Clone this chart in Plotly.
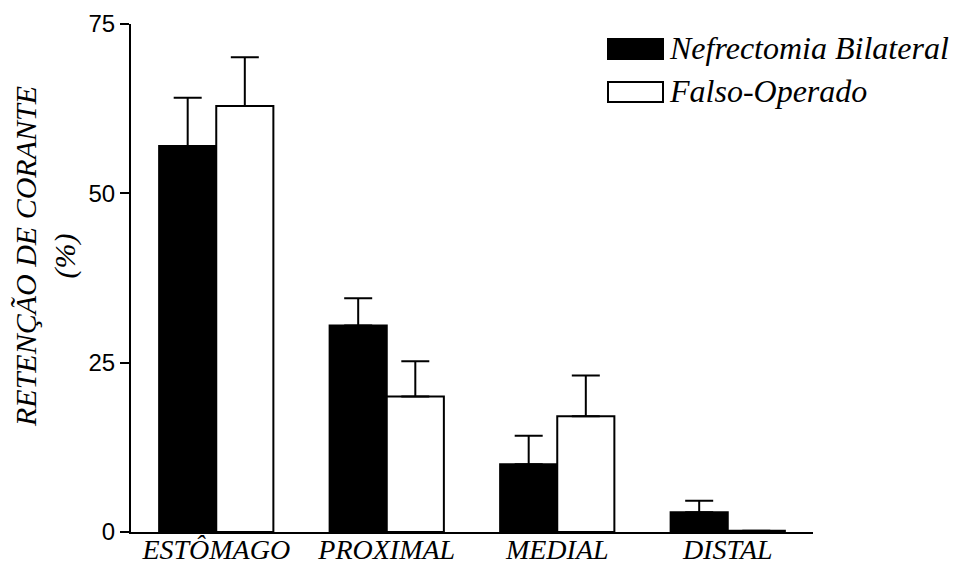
import plotly.graph_objects as go

categories = ["ESTÔMAGO", "PROXIMAL", "MEDIAL", "DISTAL"]
nefrectomia = [57.0, 30.5, 10.0, 2.9]
nefrectomia_err = [7.1, 4.0, 4.2, 1.7]
falso = [62.9, 20.0, 17.1, 0.2]
falso_err = [7.2, 5.2, 6.0, 0.0]
series_names = ["Nefrectomia Bilateral", "Falso-Operado"]
y_ticks = [0, 25, 50, 75]
y_title = "RETENÇÃO DE CORANTE<br>(%)"

serif = "Liberation Serif"
sans = "Liberation Sans"

fig = go.Figure()
fig.add_trace(go.Bar(
    x=categories, y=nefrectomia, name=series_names[0],
    marker=dict(color="black", line=dict(color="black", width=2)),
    error_y=dict(type="data", array=nefrectomia_err, arrayminus=[0]*4, symmetric=False,
                 color="black", thickness=2, width=14),
    showlegend=False,
))
fig.add_trace(go.Bar(
    x=categories, y=falso, name=series_names[1],
    marker=dict(color="white", line=dict(color="black", width=2)),
    error_y=dict(type="data", array=falso_err, arrayminus=[0]*4, symmetric=False,
                 color="black", thickness=2, width=14),
    showlegend=False,
))

L, R, T, B = 131, 813, 24, 532
W, H = R - L, B - T

# legend drawn manually (wide rectangles)
legend_fill = ["black", "white"]
for i, (nm, fc) in enumerate(zip(series_names, legend_fill)):
    top = 39 + i * 43
    fig.add_shape(type="rect", xref="paper", yref="paper",
                  x0=(608 - L) / W, x1=(663 - L) / W,
                  y0=(B - (top + 20)) / H, y1=(B - top) / H,
                  fillcolor=fc, line=dict(color="black", width=2))
    fig.add_annotation(xref="paper", yref="paper",
                       x=(667 - L) / W, y=(B - (top + 9)) / H,
                       text=nm, showarrow=False, xanchor="left", yanchor="middle",
                       font=dict(family=serif, size=32, color="black", style="italic"))

# y-axis title
fig.add_annotation(xref="paper", yref="paper",
                   x=(45 - L) / W, y=(B - 257) / H,
                   text=y_title, textangle=-90, showarrow=False,
                   xanchor="center", yanchor="middle",
                   font=dict(family=serif, size=30, color="black", style="italic"))

fig.update_layout(
    width=958, height=565,
    margin=dict(l=L, r=958 - R, t=T, b=565 - B),
    paper_bgcolor="white", plot_bgcolor="white",
    barmode="group", bargap=0.33, bargroupgap=0,
    xaxis=dict(
        range=[-0.5, 3.5], showline=True, linecolor="black", linewidth=2,
        ticks="", showgrid=False, zeroline=False,
        tickfont=dict(family=serif, size=28, color="black", style="italic"),
        ticklabelstandoff=-9,
        automargin=False,
    ),
    yaxis=dict(
        range=[0, 75], tickvals=y_ticks, showline=True, linecolor="black", linewidth=2,
        ticks="outside", ticklen=9, tickwidth=2, tickcolor="black",
        showgrid=False, zeroline=False,
        tickfont=dict(family=sans, size=24, color="black"),
        automargin=False,
    ),
)

fig.write_html("out.html")
